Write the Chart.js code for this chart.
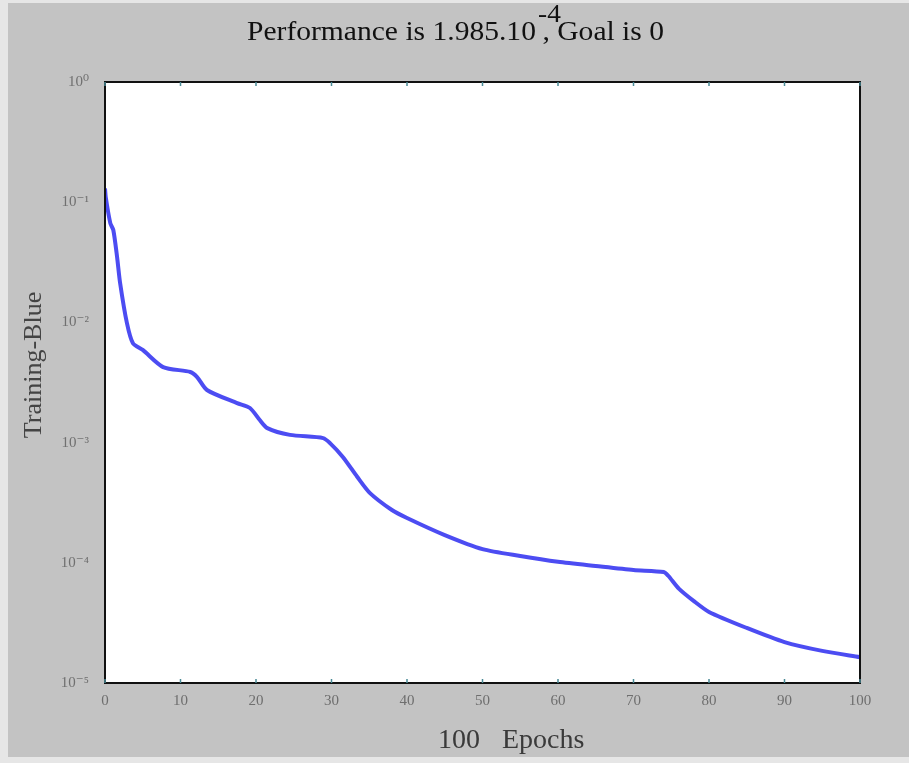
<!DOCTYPE html>
<html lang="en">
<head>
<meta charset="UTF-8">
<title>Performance</title>
<script src="https://cdn.jsdelivr.net/npm/chart.js"></script>
<style>
  body { margin: 0; background: #e8e8e8; }
  .wrap { width: 909px; height: 763px; }
</style>
</head>
<body>
<div class="wrap"><canvas id="perfChart"></canvas></div>
<script>
// training curve (epoch, performance)
const epochs = [0, 0.1, 0.7, 1.1, 1.6, 2.0, 2.9, 3.7, 5.0, 7.7, 11.3, 12.2, 13.5, 17.5, 19.2, 20.5, 21.5, 24.5, 28.9, 29.8, 31.5, 33.4, 35.1,
  38, 40, 45, 50, 55, 60, 65, 70, 74, 74.6, 76, 78, 80, 85, 90, 95, 100];
const trainPerf = [0.13, 0.11, 0.067, 0.0587, 0.035, 0.0213, 0.0099, 0.0067, 0.0059, 0.00425, 0.00387, 0.00351, 0.00274, 0.00213, 0.00194, 0.00154, 0.00132, 0.00116, 0.00109, 0.00099, 0.00076, 0.00052, 0.00038,
  0.000275, 0.000236, 0.00017, 0.00013, 0.000114, 0.000102, 0.000094, 0.000087, 0.0000838, 0.000078, 0.000061, 0.000048, 0.000039, 0.0000287, 0.0000219, 0.0000185, 0.0000164];

const xTickValues = [0, 10, 20, 30, 40, 50, 60, 70, 80, 90, 100];
const yTickValues = [1, 1e-1, 1e-2, 1e-3, 1e-4, 1e-5];
const yTickLabels = ['10⁰', '10⁻¹', '10⁻²', '10⁻³', '10⁻⁴', '10⁻⁵'];

const serif = '"Liberation Serif", "DejaVu Serif", serif';

// gray figure background, white axes box, black frame, titles
const figurePlugin = {
  id: 'figure',
  beforeDraw(chart) {
    const ctx = chart.ctx;
    const a = chart.chartArea;
    ctx.save();
    ctx.fillStyle = '#e6e6e6';
    ctx.fillRect(0, 0, chart.width, chart.height);
    ctx.fillStyle = '#c3c3c3';
    ctx.fillRect(8, 3, chart.width - 8, 754);
    ctx.fillStyle = '#ffffff';
    ctx.fillRect(a.left, a.top, a.right - a.left, a.bottom - a.top);
    ctx.restore();
  },
  afterDraw(chart) {
    const ctx = chart.ctx;
    const a = chart.chartArea;
    ctx.save();
    ctx.strokeStyle = '#111';
    ctx.lineWidth = 2;
    ctx.strokeRect(a.left, a.top, a.right - a.left, a.bottom - a.top);

    // small inward tick marks
    ctx.strokeStyle = '#4a8a96';
    ctx.lineWidth = 1.5;
    const xs = chart.scales.x;
    xTickValues.forEach(v => {
      const px = xs.getPixelForValue(v);
      ctx.beginPath(); ctx.moveTo(px, a.bottom); ctx.lineTo(px, a.bottom - 4); ctx.stroke();
      ctx.beginPath(); ctx.moveTo(px, a.top); ctx.lineTo(px, a.top + 4); ctx.stroke();
    });

    // title with raised exponent
    ctx.fillStyle = '#111';
    ctx.textBaseline = 'alphabetic';
    ctx.font = '27px ' + serif;
    const p1 = 'Performance is 1.985.10';
    const p3 = ', Goal is 0';
    const w1 = ctx.measureText(p1).width;
    const w3 = ctx.measureText(p3).width;
    const sx = 417 / (w1 + 6 + w3);
    ctx.save();
    ctx.translate(247, 40);
    ctx.scale(sx, 1);
    ctx.fillText(p1, 0, 0);
    ctx.fillText(p3, w1 + 6, 0);
    ctx.font = '25px ' + serif;
    ctx.fillText('-4', w1 + 2, -18);
    ctx.restore();

    // x axis title
    ctx.fillStyle = '#3a3a3a';
    ctx.font = '28px ' + serif;
    ctx.textAlign = 'left';
    ctx.fillText('100', 438, 748);
    ctx.fillText('Epochs', 502, 748);

    // y axis title
    ctx.save();
    ctx.translate(41, 365);
    ctx.rotate(-Math.PI / 2);
    ctx.textAlign = 'center';
    ctx.font = '26px ' + serif;
    ctx.fillStyle = '#444';
    ctx.fillText('Training-Blue', 0, 0);
    ctx.restore();
    ctx.restore();
  }
};

const ctx = document.getElementById('perfChart').getContext('2d');
const perfChart = new Chart(ctx, {
  type: 'line',
  data: {
    datasets: [{
      label: 'Training',
      data: epochs.map((e, i) => ({ x: e, y: trainPerf[i] })),
      borderColor: 'rgba(45, 45, 240, 0.85)',
      borderWidth: 4,
      pointRadius: 0,
      tension: 0.25,
      fill: false
    }]
  },
  options: {
    responsive: true,
    maintainAspectRatio: false,
    animation: false,
    layout: { padding: { top: 82, right: 49, left: 0, bottom: 0 } },
    plugins: {
      legend: { display: false },
      tooltip: { enabled: false }
    },
    scales: {
      x: {
        type: 'linear',
        min: 0,
        max: 100,
        afterBuildTicks: scale => { scale.ticks = xTickValues.map(v => ({ value: v })); },
        afterFit: scale => { scale.height = 80; },
        grid: { display: false, drawTicks: false },
        border: { display: false },
        ticks: {
          padding: 9,
          color: '#6e6e6e',
          font: { family: serif, size: 15 },
          maxRotation: 0
        }
      },
      y: {
        type: 'logarithmic',
        min: 1e-5,
        max: 1,
        afterBuildTicks: scale => { scale.ticks = yTickValues.map(v => ({ value: v })); },
        afterFit: scale => { scale.width = 105; },
        grid: { display: false, drawTicks: false },
        border: { display: false },
        ticks: {
          padding: 16,
          color: '#707070',
          font: { family: serif, size: 15 },
          callback: function (value) {
            const i = yTickValues.findIndex(v => Math.abs(v - value) / v < 1e-6);
            return i >= 0 ? yTickLabels[i] : '';
          }
        }
      }
    }
  },
  plugins: [figurePlugin]
});
</script>
</body>
</html>
